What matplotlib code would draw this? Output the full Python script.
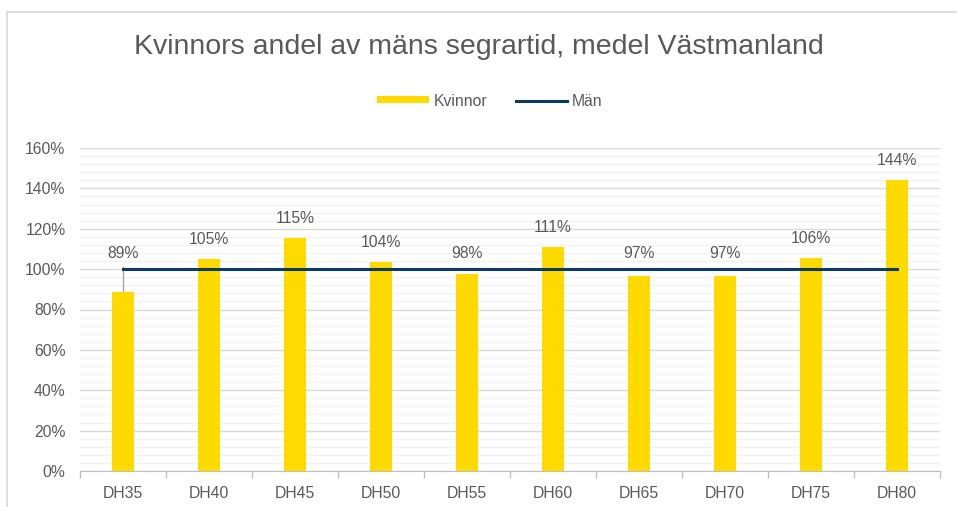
import matplotlib
matplotlib.use("Agg")
import matplotlib.pyplot as plt
from matplotlib.ticker import MultipleLocator, FuncFormatter
from matplotlib.lines import Line2D
from matplotlib.patches import Patch

plt.rcParams['font.family'] = ['Liberation Sans', 'DejaVu Sans']

klasser = ['DH35', 'DH40', 'DH45', 'DH50', 'DH55', 'DH60', 'DH65', 'DH70', 'DH75', 'DH80']
kvinnor = [88.7, 105.0, 115.3, 103.6, 97.8, 111.0, 96.6, 96.7, 105.6, 144.3]
etiketter = ['89%', '105%', '115%', '104%', '98%', '111%', '97%', '97%', '106%', '144%']
man = [100] * len(klasser)

gul = '#FFDA00'
bla = '#0B3A63'
gra = '#595959'

fig = plt.figure(figsize=(9.57, 5.07), dpi=100)
ax = fig.add_axes([80/957, 1 - 471/507, 860/957, 323/507])

x = list(range(len(klasser)))
ax.bar(x, kvinnor, width=0.26, color=gul, zorder=3)
ax.plot(x, man, color=bla, lw=2.2, zorder=4)

# dataetiketter
for i, v in enumerate(kvinnor):
    if v > man[i]:
        ax.annotate(etiketter[i], (i, v), xytext=(0, 14), textcoords='offset points',
                    ha='center', va='center', fontsize=11.3, color=gra, zorder=5)
    else:
        ax.annotate(etiketter[i], (i, man[i]), xytext=(0, 11), textcoords='offset points',
                    ha='center', va='center', fontsize=11.3, color=gra, zorder=5)
        if man[i] - v > 5:
            ax.plot([i, i], [v, man[i] + 1], color='#A6A6A6', lw=1, zorder=2)

ax.set_xlim(-0.5, len(klasser) - 0.5)
ax.set_ylim(0, 160)
ax.yaxis.set_major_locator(MultipleLocator(20))
ax.yaxis.set_minor_locator(MultipleLocator(4))
ax.yaxis.set_major_formatter(FuncFormatter(lambda v, p: f'{v:.0f}%'))
ax.grid(axis='y', which='major', color='#D9D9D9', lw=1, zorder=0)
ax.grid(axis='y', which='minor', color='#F2F2F2', lw=1, zorder=0)

ax.set_xticks(x)
ax.set_xticklabels(klasser)
ax.set_xticks([i - 0.5 for i in range(len(klasser) + 1)], minor=True)
ax.tick_params(axis='x', which='major', length=0, pad=10.5, labelsize=11.3, labelcolor=gra)
ax.tick_params(axis='x', which='minor', length=5, color='#BFBFBF', width=1)
ax.tick_params(axis='y', which='both', length=0, pad=10.5, labelsize=11.3, labelcolor=gra)

for s in ['top', 'right', 'left']:
    ax.spines[s].set_visible(False)
ax.spines['bottom'].set_color('#BFBFBF')

fig.text(0.5, 1 - 47/507, 'Kvinnors andel av mäns segrartid, medel Västmanland',
         ha='center', va='center', fontsize=20.5, color=gra)

handles = [Patch(facecolor=gul, edgecolor='none'), Line2D([0], [0], color=bla, lw=2.2)]
fig.legend(handles, ['Kvinnor', 'Män'], loc='center', bbox_to_anchor=(490/957, 1 - 101/507),
           ncol=2, frameon=False, fontsize=11.3, labelcolor=gra, handlelength=3.3,
           handleheight=0.3, columnspacing=1.8, handletextpad=0.3)

# ram runt diagrammet
fig.add_artist(Line2D([7.5/957, 7.5/957], [0, 1 - 11.5/507], color='#D9D9D9', lw=1.2))
fig.add_artist(Line2D([7.5/957, 1], [1 - 11.5/507, 1 - 11.5/507], color='#D9D9D9', lw=1.2))

fig.savefig('out.png', dpi=100)
